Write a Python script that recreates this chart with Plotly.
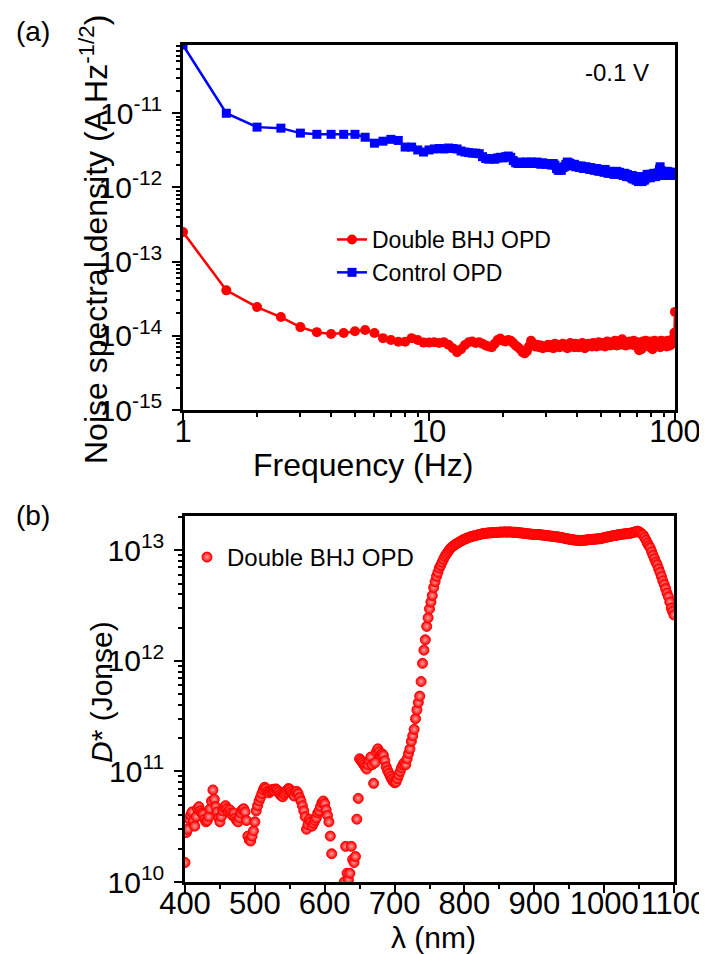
from plotly import graph_objs as go
import numpy as np

# (a) noise spectral density, step 0.5 Hz from 1 to 100 Hz
freq = np.arange(1, 100.5, 0.5)
# Control OPD, in units of 1e-12 A Hz^-1/2
control_e12 = [83, 10.0, 6.5, 6.3, 5.4, 5.2, 5.2, 5.2, 5.2, 4.75,
               3.95, 4.2, 4.45, 4.3, 3.5, 3.5, 3.2, 3.0, 3.2,
               3.3, 3.35, 3.3, 3.4, 3.35, 3.3, 3.1, 3.0, 2.95, 2.9,
               2.9, 2.85, 2.6, 2.45, 2.4, 2.45, 2.4, 2.5, 2.55, 2.5,
               2.6, 2.65, 2.55, 2.3, 2.15, 2.1, 2.2, 2.15, 2.1, 2.2,
               2.15, 2.2, 2.1, 2.15, 2.2, 2.1, 2.05, 2.15, 2.1, 2.05,
               2.1, 2.05, 2.0, 2.1, 2.0, 1.8, 1.7, 1.75, 1.7, 1.85,
               1.9, 2.05, 2.2, 2.15, 2.1, 2.0, 1.95, 2.05, 1.9, 1.95,
               1.9, 1.85, 1.95, 1.9, 1.8, 1.85, 1.9, 1.8, 1.85, 1.75,
               1.85, 1.8, 1.75, 1.7, 1.75, 1.8, 1.7, 1.65, 1.75, 1.7,
               1.65, 1.7, 1.6, 1.75, 1.65, 1.6, 1.55, 1.65, 1.6, 1.55,
               1.6, 1.55, 1.5, 1.6, 1.55, 1.65, 1.5, 1.55, 1.6, 1.5,
               1.5, 1.55, 1.45, 1.5, 1.55, 1.45, 1.4, 1.5, 1.45, 1.4,
               1.45, 1.4, 1.35, 1.45, 1.3, 1.35, 1.4, 1.3, 1.25, 1.35,
               1.3, 1.2, 1.35, 1.25, 1.3, 1.4, 1.2, 1.3, 1.35, 1.25,
               1.3, 1.4, 1.35, 1.5, 1.45, 1.4, 1.5, 1.45, 1.35, 1.5,
               1.45, 1.5, 1.4, 1.55, 1.45, 1.5, 1.4, 1.55, 1.5, 1.45,
               1.55, 1.6, 1.75, 1.9, 1.7, 1.55, 1.65, 1.5, 1.6, 1.45,
               1.5, 1.6, 1.45, 1.55, 1.5, 1.65, 1.45, 1.55, 1.5, 1.6,
               1.45, 1.55, 1.5, 1.6, 1.45, 1.55, 1.5, 1.6, 1.45, 1.55]
# Double BHJ OPD, in units of 1e-14 A Hz^-1/2
double_e14 = [25, 4.1, 2.44, 1.79, 1.31, 1.12, 1.06, 1.09, 1.15, 1.2,
              1.09, 0.93, 0.88, 0.83, 0.83, 0.93, 0.88, 0.81, 0.81,
              0.82, 0.8, 0.82, 0.76, 0.68, 0.6, 0.66, 0.75, 0.82, 0.84,
              0.8, 0.82, 0.78, 0.74, 0.72, 0.7, 0.78, 0.88, 0.92, 0.86,
              0.84, 0.88, 0.86, 0.8, 0.74, 0.7, 0.66, 0.6, 0.58, 0.62,
              0.72, 0.86, 0.78, 0.72, 0.76, 0.7, 0.74, 0.68, 0.72, 0.7,
              0.76, 0.7, 0.74, 0.68, 0.78, 0.72, 0.76, 0.7, 0.74, 0.78,
              0.72, 0.76, 0.68, 0.74, 0.8, 0.72, 0.76, 0.7, 0.78, 0.74,
              0.7, 0.76, 0.72, 0.8, 0.74, 0.68, 0.76, 0.72, 0.78, 0.74,
              0.76, 0.72, 0.8, 0.74, 0.78, 0.72, 0.76, 0.82, 0.74, 0.78,
              0.74, 0.8, 0.76, 0.72, 0.78, 0.84, 0.76, 0.8, 0.74, 0.78,
              0.82, 0.76, 0.8, 0.86, 0.78, 0.74, 0.8, 0.84, 0.76, 0.8,
              0.78, 0.9, 0.82, 0.76, 0.8, 0.74, 0.78, 0.82, 0.76, 0.8,
              0.84, 0.78, 0.82, 0.76, 0.8, 0.86, 0.78, 0.74, 0.8, 0.76,
              0.82, 0.68, 0.64, 0.72, 0.8, 0.66, 0.76, 0.84, 0.78, 0.74,
              0.8, 0.86, 0.76, 0.82, 0.78, 0.72, 0.8, 0.84, 0.76, 0.8,
              0.82, 0.66, 0.74, 0.8, 0.86, 0.78, 0.72, 0.8, 0.76, 0.82,
              0.78, 0.84, 0.76, 0.7, 0.8, 0.86, 0.78, 0.74, 0.82, 0.76,
              0.8, 0.74, 0.84, 0.78, 0.72, 0.8, 0.86, 0.76, 0.82, 0.78,
              0.74, 0.82, 0.88, 0.78, 0.84, 0.8, 0.9, 0.86, 1.1, 2.1]

# (b) detectivity, step 2 nm from 400 to 1100 nm
wavelength = np.arange(400, 1101, 2)
# D* in units of 1e10 Jones
dstar_e10 = [1.5, 2.8, 3.0, 3.7, 4.0, 4.3, 3.6, 3.2, 3.9, 4.6, 4.8, 4.4, 4.2,
             4.1, 3.7, 3.5, 3.6, 3.9, 4.6, 5.4, 6.8, 5.6, 4.8, 4.3, 3.8, 3.5,
             3.9, 4.4, 4.7, 4.9, 4.6, 4.3, 4.5, 4.2, 4.0, 4.2, 3.8, 3.6, 3.5,
             3.8, 4.2, 4.5, 4.6, 4.3, 3.6, 2.6, 2.4, 2.35, 2.6, 2.9, 3.5,
             4.4, 4.9, 5.4, 5.8, 6.3, 6.8, 7.2, 7.0, 6.6, 6.4, 6.6, 6.8, 6.9,
             6.7, 6.95, 6.8, 6.5, 6.2, 6.0, 5.9, 6.2, 6.5, 6.8, 7.0, 6.9,
             6.6, 6.3, 6.0, 6.5, 6.6, 6.3, 5.8, 5.4, 4.9, 4.4, 3.9, 3.0, 3.3,
             3.7, 3.5, 3.2, 3.4, 3.6, 3.8, 4.2, 4.4, 4.8, 5.2, 5.4, 5.1,
             4.5, 4.0, 3.5, 2.6, 1.8, 0.8, 0.5, 0.4, 0.3, 0.35, 0.5, 0.7, 0.9,
             1.0, 2.1, 1.2, 1.05, 1.2, 2.1, 1.6, 1.5, 1.7, 3.7, 5.7, 13,
             12.5, 12, 11.5, 11, 10.5, 11.5, 12.5, 13.5, 11.5, 7.8, 12, 15, 16,
             15, 14, 14.5, 14, 12.5, 11, 10.2, 9.6, 9.0, 8.5, 8.1, 7.9,
             8.0, 8.6, 9.3, 10, 10.8, 11.5, 12, 11.5, 13, 14.5, 16, 18.7, 21,
             24, 30, 36, 42, 48, 65, 95, 125, 155, 205, 245, 295,
             340, 390, 460, 520, 580, 630, 690, 730, 780, 830, 880, 920, 960,
             1000, 1040, 1070, 1090, 1120, 1140, 1160, 1180, 1200, 1220, 1240, 1260,
             1270, 1290, 1300, 1320, 1330, 1340, 1350, 1360, 1370, 1380, 1390,
             1400, 1410, 1420, 1420, 1430, 1430, 1440, 1440, 1440, 1450, 1450,
             1450, 1450, 1460,
             1460, 1460, 1460, 1470, 1460, 1460, 1470, 1460, 1460, 1450, 1460,
             1450, 1450, 1440, 1440, 1430, 1430, 1420, 1420, 1410, 1410, 1400,
             1400, 1390, 1390,
             1390, 1390, 1390, 1380, 1380, 1370, 1370, 1360, 1360, 1350, 1350,
             1340, 1340, 1330, 1330, 1320, 1320, 1310, 1310, 1300, 1290, 1280,
             1270, 1270, 1260,
             1250, 1250, 1240, 1240, 1230, 1230, 1230, 1220, 1230, 1230, 1230,
             1240, 1240, 1250, 1250, 1250, 1260, 1260, 1260, 1270, 1270, 1270,
             1280, 1290, 1300,
             1310, 1320, 1320, 1330, 1340, 1350, 1360, 1360, 1370, 1380, 1390,
             1390, 1400, 1400, 1410, 1410, 1420, 1420, 1430, 1440, 1450, 1460,
             1480, 1490, 1470,
             1440, 1400, 1370, 1300, 1230, 1160, 1100, 1050, 970, 900, 840, 780,
             740, 680, 630, 580, 530, 490, 450, 410, 380, 340, 300, 280, 260]

freq_ticks = [1, 10, 100]
noise_ticks = [1e-15, 1e-14, 1e-13, 1e-12, 1e-11]
dstar_ticks = [1e10, 1e11, 1e12, 1e13]
wl_ticks = [400, 500, 600, 700, 800, 900, 1000, 1100]

control = np.array(control_e12) * 1e-12
double = np.array(double_e14) * 1e-14
dstar = np.array(dstar_e10) * 1e10

FONT = "Liberation Sans, Arial, sans-serif"
W, H = 707, 954
OFF = 8  # body margin of the page

def px(x):
    return (x - OFF) / W

def py(y):
    return 1 - (y - OFF) / H

fig = go.Figure()
# верхний график
fig.add_trace(go.Scatter(x=freq, y=double, mode='lines+markers', name='Double BHJ OPD',
    line=dict(color='#ff0000', width=2.5), marker=dict(symbol='circle', size=10, color='#ff0000'),
    xaxis='x', yaxis='y', legend='legend'))
fig.add_trace(go.Scatter(x=freq, y=control, mode='lines+markers', name='Control OPD',
    line=dict(color='#0000ff', width=2.5), marker=dict(symbol='square', size=9, color='#0000ff'),
    xaxis='x', yaxis='y', legend='legend'))
# нижний график
fig.add_trace(go.Scatter(x=wavelength, y=dstar, mode='markers', name='Double BHJ OPD',
    marker=dict(symbol='circle', size=10, color='#ff0000',
                line=dict(color='#ff0000', width=1),
                gradient=dict(type='radial', color='#ffa0a0')),
    xaxis='x2', yaxis='y2', legend='legend2'))

axis_common = dict(showline=True, linecolor='black', linewidth=2.5, mirror=True,
                   ticks='outside', ticklen=8, tickwidth=2, tickcolor='black',
                   showgrid=False, zeroline=False, automargin=False,
                   tickfont=dict(family=FONT, size=31, color='black'))
ytick_font = dict(family=FONT, size=30, color='black')
minor_log = dict(ticks='outside', ticklen=4, tickwidth=1.5, dtick='D1')

def sup_text(vals):
    return ['10<sup>%d</sup>' % round(np.log10(v)) for v in vals]

fig.update_layout(
    template='none',
    width=W, height=H, margin=dict(l=0, r=0, t=0, b=0, pad=0), autosize=False,
    paper_bgcolor='white', plot_bgcolor='white',
    font=dict(family=FONT, color='black'),
    xaxis=dict(axis_common, type='log', domain=[px(183), px(675)], range=[0, 2],
               tickmode='array', tickvals=freq_ticks, ticktext=[str(v) for v in freq_ticks],
               minor=minor_log, ticklabelstandoff=-16, anchor='y'),
    yaxis=dict(axis_common, type='log', domain=[py(410), py(45)], range=[-15, -10.08],
               tickmode='array', tickvals=noise_ticks, ticktext=sup_text(noise_ticks),
               tickfont=ytick_font, minor=minor_log, ticklabelstandoff=4, anchor='x'),
    xaxis2=dict(axis_common, domain=[px(185), px(674)], range=[400, 1100],
                tickmode='array', tickvals=wl_ticks, ticktext=[str(v) for v in wl_ticks],
                minor=dict(ticks='outside', ticklen=4, tickwidth=1.5, dtick=50),
                ticklabelstandoff=-16, anchor='y2'),
    yaxis2=dict(axis_common, type='log', domain=[py(882), py(516)], range=[10, 13.31],
                tickmode='array', tickvals=dstar_ticks, ticktext=sup_text(dstar_ticks),
                tickfont=ytick_font, minor=minor_log, ticklabelstandoff=4, anchor='x2'),
    legend=dict(x=px(332), y=py(218), xanchor='left', yanchor='top',
                bgcolor='rgba(0,0,0,0)', font=dict(family=FONT, size=23), itemwidth=30),
    legend2=dict(x=px(187), y=py(535), xanchor='left', yanchor='top',
                 bgcolor='rgba(0,0,0,0)', font=dict(family=FONT, size=24)),
)

# подписи осей и панелей
texts = [
    dict(text='(a)', x=33, y=32, size=28, angle=0),
    dict(text='(b)', x=33, y=515, size=28, angle=0),
    dict(text='-0.1 V', x=617, y=72, size=24, angle=0),
    dict(text='Frequency (Hz)', x=363, y=465, size=32, angle=0),
    dict(text='λ (nm)', x=433, y=937, size=30, angle=0),
    dict(text='Noise spectral density (A Hz<sup>-1/2</sup>)', x=94, y=240, size=32, angle=-90),
    dict(text='<i>D</i>* (Jonse)', x=101, y=692, size=30, angle=-90),
]
for t in texts:
    fig.add_annotation(text=t['text'], x=px(t['x']), y=py(t['y']), xref='paper', yref='paper',
                       showarrow=False, textangle=t['angle'], xanchor='center', yanchor='middle',
                       font=dict(family=FONT, size=t['size'], color='black'))

fig.write_html("out.html")
